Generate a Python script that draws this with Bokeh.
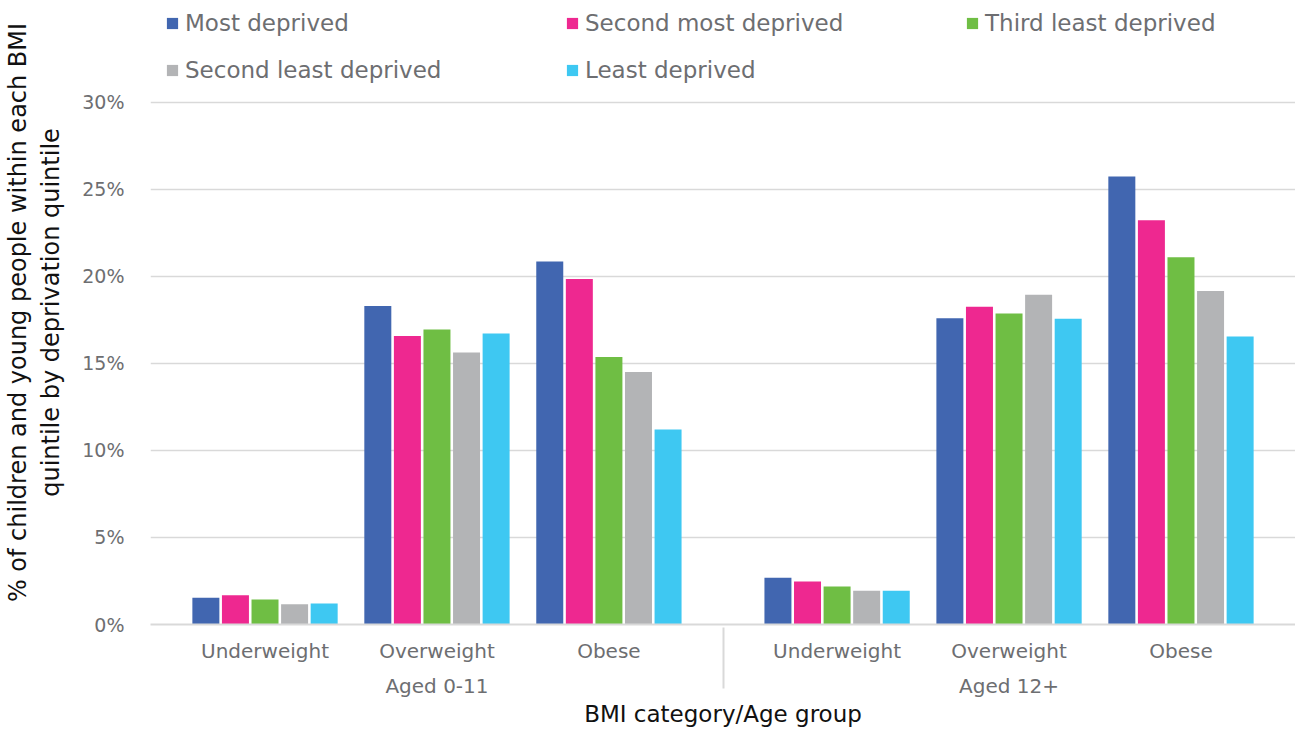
from bokeh.plotting import figure
from bokeh.models import (FactorRange, Range1d, Legend, LegendItem, FixedTicker,
                          PrintfTickFormatter, ColumnDataSource)
from bokeh.transform import dodge
from bokeh.embed import file_html
from bokeh.resources import INLINE

# ---------------- data ----------------
age_groups = ["Aged 0-11", "Aged 12+"]
bmi_categories = ["Underweight", "Overweight", "Obese"]
series_names = ["Most deprived", "Second most deprived", "Third least deprived",
                "Second least deprived", "Least deprived"]
most_deprived = [1.54, 18.30, 20.86, 2.68, 17.60, 25.74]
second_most_deprived = [1.68, 16.57, 19.85, 2.47, 18.25, 23.23]
third_least_deprived = [1.43, 16.95, 15.37, 2.19, 17.87, 21.10]
second_least_deprived = [1.16, 15.62, 14.51, 1.94, 18.94, 19.16]
least_deprived = [1.20, 16.72, 11.20, 1.94, 17.57, 16.54]
y_ticks = [0, 5, 10, 15, 20, 25, 30]

# ---------------- styling ----------------
colors = ["#4166b0", "#ee2890", "#6fbe44", "#b3b4b6", "#3ec8f2"]
offsets = [-0.344, -0.172, 0.0, 0.172, 0.344]
bar_w = 0.157
GRAY = "#6d6e71"
FONT = "DejaVu Sans"

factors = [(g, c) for g in age_groups for c in bmi_categories]
src = ColumnDataSource(data=dict(
    x=factors,
    s0=most_deprived, s1=second_most_deprived, s2=third_least_deprived,
    s3=second_least_deprived, s4=least_deprived,
))

x_range = FactorRange(*factors, factor_padding=0.0, group_padding=0.327,
                      range_padding=0.166, range_padding_units="absolute")

# the frame reaches the top of the canvas; the extra y headroom above 30%
# holds the legend (no ticks or grid lines there)
p = figure(width=1295, height=729, x_range=x_range, y_range=Range1d(0, 35.85),
           output_backend="svg", toolbar_location=None,
           min_border_left=142, min_border_right=0, min_border_top=0,
           min_border_bottom=100)

renderers = []
for i, name in enumerate(series_names):
    r = p.vbar(x=dodge("x", offsets[i], range=p.x_range), top="s%d" % i, width=bar_w,
               source=src, fill_color=colors[i], line_color=None)
    renderers.append(r)

legend = Legend(items=[LegendItem(label=n, renderers=[r]) for n, r in zip(series_names, renderers)],
                orientation="horizontal", ncols=3, location=(15, 538),
                glyph_width=14, glyph_height=14, label_standoff=6,
                label_width=365, label_height=32, spacing=15,
                margin=0, padding=0, border_line_color=None, background_fill_alpha=0,
                label_text_font=FONT, label_text_font_size="23px", label_text_color=GRAY)
p.add_layout(legend, "center")

# y axis
p.yaxis.ticker = FixedTicker(ticks=y_ticks)
p.yaxis.formatter = PrintfTickFormatter(format="%d%%")
p.yaxis.axis_line_color = None
p.yaxis.major_tick_line_color = None
p.yaxis.minor_tick_line_color = None
p.yaxis.major_label_standoff = 20
p.yaxis.major_label_text_font = FONT
p.yaxis.major_label_text_font_size = "19px"
p.yaxis.major_label_text_color = GRAY
p.yaxis.axis_label = "% of children and young people within each BMI\nquintile by deprivation quintile"
p.yaxis.axis_label_text_font = FONT
p.yaxis.axis_label_text_font_size = "24px"
p.yaxis.axis_label_text_font_style = "normal"
p.yaxis.axis_label_text_color = "#111111"
p.yaxis.axis_label_standoff = 14

# x axis
xa = p.xaxis[0]
xa.axis_line_color = "#d9d9d9"
xa.axis_line_width = 2
xa.major_tick_line_color = None
xa.minor_tick_line_color = None
xa.major_label_standoff = 8
xa.major_label_text_font = FONT
xa.major_label_text_font_size = "20px"
xa.major_label_text_color = GRAY
xa.group_text_font = FONT
xa.group_text_font_size = "20px"
xa.group_text_font_style = "normal"
xa.group_text_color = GRAY
xa.separator_line_color = "#d9d9d9"
xa.separator_line_width = 2
xa.axis_label = "BMI category/Age group"
xa.axis_label_text_font = FONT
xa.axis_label_text_font_size = "23px"
xa.axis_label_text_font_style = "normal"
xa.axis_label_text_color = "#111111"
xa.axis_label_standoff = 0

# grid
p.xgrid.grid_line_color = None
p.ygrid.grid_line_color = "#d9d9d9"
p.ygrid.grid_line_width = 1.5
p.outline_line_color = None

open("out.html", "w").write(file_html(p, INLINE))
